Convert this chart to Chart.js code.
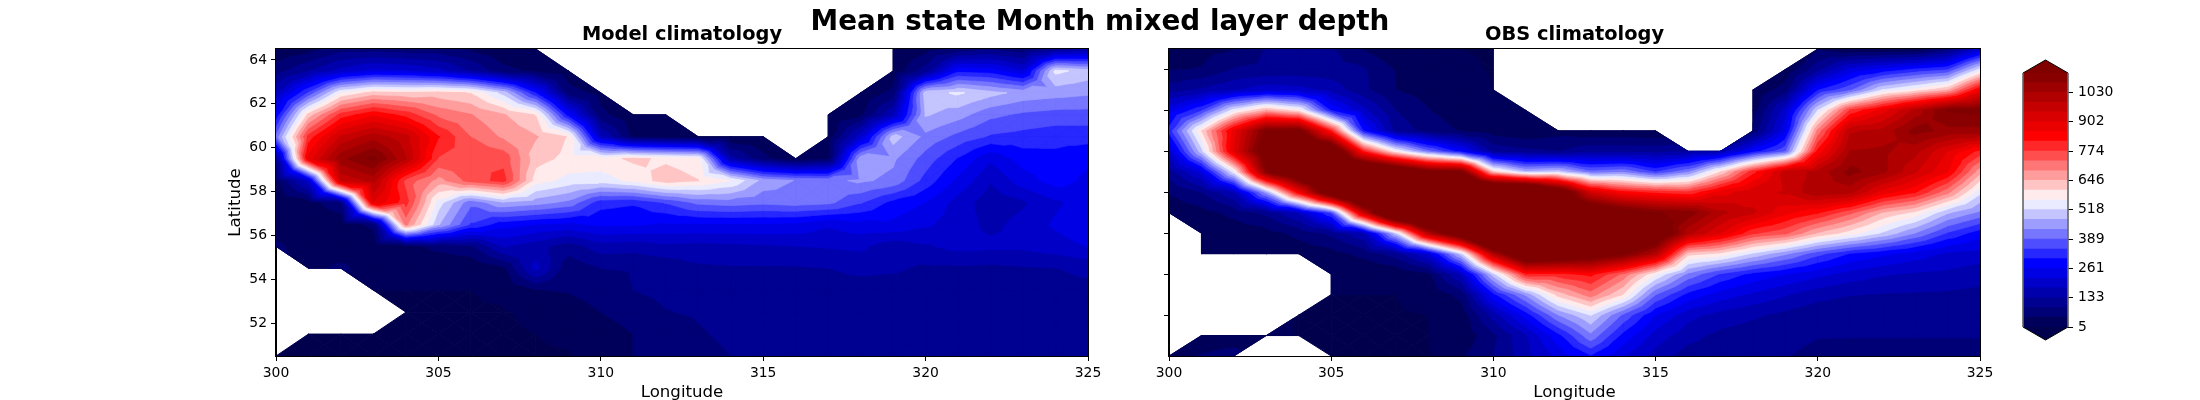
<!DOCTYPE html>
<html><head><meta charset="utf-8">
<style>
html,body{margin:0;padding:0;background:#fff;width:2200px;height:400px;overflow:hidden}
canvas{position:absolute;top:0}
#sup{position:absolute;left:0;width:2200px;top:4px;text-align:center;font:bold 27.8px "DejaVu Sans";color:#000;line-height:34px}
</style>
<script src="https://cdn.jsdelivr.net/npm/chart.js@4"></script>
</head><body>
<canvas id="a" width="910" height="400" style="left:200px"></canvas>
<canvas id="b" width="880" height="400" style="left:1120px"></canvas>
<canvas id="c" width="210" height="400" style="left:1990px"></canvas>
<div id="sup">Mean state Month mixed layer depth</div>
<script>
const n=null;
const lons=[300,301,302,303,304,305,306,307,308,309,310,311,312,313,314,315,316,317,318,319,320,321,322,323,324,325];
const modelLats=[64.5,63.5,62.5,61.5,60.5,59.5,58.5,57.5,56.5,55.5,54.5,53.5,52.5,51.5,50.5];
const modelGrid=[
[10,30,70,70,60,60,40,15,5,n,n,n,n,n,n,n,n,n,n,10,30,60,80,60,110,130],
[70,130,190,230,220,190,130,60,40,15,n,n,n,n,n,n,n,n,n,15,110,290,280,220,530,500],
[170,350,560,620,610,620,600,500,300,70,30,n,n,n,n,n,n,n,15,60,500,525,490,460,450,440],
[270,620,790,850,800,720,690,650,600,280,60,15,5,n,n,n,n,10,40,170,480,450,400,380,370,370],
[400,790,950,1010,960,820,730,680,650,600,180,40,20,10,10,15,n,20,200,495,420,375,340,330,320,320],
[100,880,1060,1130,990,770,770,760,620,590,585,612,595,580,150,60,10,40,460,440,370,300,225,280,290,270],
[40,200,950,1000,760,670,750,790,580,545,540,570,625,604,560,460,430,420,440,420,330,250,180,240,280,250],
[10,30,80,900,790,540,400,470,450,420,320,310,350,400,410,400,410,400,350,290,260,200,150,170,210,240],
[10,10,15,60,700,480,340,280,260,250,270,265,255,255,255,255,250,225,245,250,225,195,165,190,225,250],
[60,15,10,5,30,60,80,180,150,110,155,150,165,160,165,170,175,180,185,150,170,190,185,185,200,220],
[n,30,60,20,15,10,10,40,190,60,90,92,100,125,128,128,128,133,145,140,125,125,122,128,132,145],
[n,n,n,5,5,5,5,10,45,52,70,90,100,105,110,110,110,110,110,110,110,112,112,115,115,118],
[n,n,n,n,3,3,3,3,10,20,48,68,88,95,105,105,105,105,105,105,105,105,105,105,105,105],
[n,3,3,3,3,3,3,3,5,10,25,48,65,85,100,105,105,105,105,105,105,105,105,105,105,105],
[3,3,3,3,3,3,3,3,3,3,15,48,60,72,90,100,105,105,105,105,105,105,105,105,105,105]
];
const obsLats=[65,64,63,62,61,60,59,58,57,56,55,54,53,52,51,50];
const obsGrid=[
[30,35,45,92,95,95,45,10,5,5,3,n,n,n,n,n,n,n,n,n,40,10,5,5,70,200],
[45,50,92,100,105,105,95,45,15,10,3,n,n,n,n,n,n,n,n,10,120,230,270,310,340,530],
[110,140,170,200,190,160,100,48,30,15,5,n,n,n,n,n,n,n,10,70,300,380,520,575,640,860],
[240,340,540,650,580,300,190,90,50,25,10,5,n,n,n,n,n,n,25,200,520,780,880,1000,1120,1130],
[320,600,880,1130,1140,800,300,120,70,45,25,10,30,15,15,5,n,n,60,250,700,980,1000,1090,1060,1060],
[200,500,900,1200,1300,1300,800,560,400,280,120,100,90,120,120,120,130,150,280,380,830,1030,1040,1000,900,800],
[110,230,540,1100,1300,1400,1400,1300,1150,1130,610,480,500,400,420,340,420,600,800,960,1000,1090,1040,950,860,660],
[50,90,170,450,850,1250,1500,1500,1500,1500,1500,1500,1250,930,830,800,780,880,930,950,1020,1000,880,820,700,530],
[20,30,60,100,180,350,950,1450,1500,1500,1500,1500,1300,1250,1180,1120,1100,1000,950,870,820,740,640,590,480,420],
[n,10,20,30,60,100,170,500,1000,1250,1600,1500,1500,1400,1350,1250,1000,900,780,740,640,580,510,430,340,280],
[n,5,5,5,20,30,60,110,220,500,1000,1300,1250,1200,1130,1000,620,590,510,440,360,300,270,240,210,200],
[n,n,n,n,n,5,5,10,40,180,500,800,800,830,720,560,420,340,290,260,230,200,180,170,165,150],
[n,n,n,n,n,5,5,5,15,60,290,440,620,710,600,390,290,240,210,180,150,135,130,128,125,120],
[n,n,n,n,3,3,3,3,5,20,150,280,430,520,380,260,190,160,140,120,100,90,90,90,90,90],
[n,30,30,15,3,3,3,3,5,15,80,170,290,420,290,200,150,120,110,100,92,92,92,92,92,92],
[40,50,60,n,n,3,3,3,3,40,90,160,230,300,220,160,110,100,95,92,80,75,75,75,75,75]
];
const levels=[5,48,90,133,176,218,261,304,346,389,432,475,518,560,603,646,688,731,774,817,859,902,945,987,1030,1073,1115];
const cbarTicks=[5,133,261,389,518,646,774,902,1030];
const lonTicks=[300,305,310,315,320,325];
const modelLatTicks=[52,54,56,58,60,62,64];
const obsLatTicks=[52,54,56,58,60,62,64];

Chart.defaults.font.family='"DejaVu Sans"';
Chart.defaults.color='#000';
Chart.defaults.devicePixelRatio=1;

function seismic(t){
  const s=[[0,0,0,.3],[.25,0,0,1],[.5,1,1,1],[.75,1,0,0],[1,.5,0,0]];
  t=Math.max(0,Math.min(1,t));
  for(let i=0;i<4;i++){ if(t<=s[i+1][0]){
    const f=(t-s[i][0])/(s[i+1][0]-s[i][0]);
    const c=[1,2,3].map(k=>Math.round(255*(s[i][k]+f*(s[i+1][k]-s[i][k]))));
    return `rgb(${c[0]},${c[1]},${c[2]})`;
  }}
}
const nLayers=levels.length-1;
const layerColors=levels.slice(0,-1).map((_,i)=>seismic((i+.5)/nLayers));
const underColor=seismic(0), overColor=seismic(1);

function clipAbove(poly,L){
  const out=[];
  for(let i=0;i<poly.length;i++){
    const p=poly[i],q=poly[(i+1)%poly.length];
    if(p.v>=L) out.push(p);
    if((p.v>=L)!==(q.v>=L)){
      const f=(L-p.v)/(q.v-p.v);
      out.push({x:p.x+f*(q.x-p.x),y:p.y+f*(q.y-p.y),v:L});
    }
  }
  return out;
}
const contourPlugin={
  id:'contourFill',
  beforeDatasetsDraw(chart){
    const ds=chart.data.datasets[0], g=ds.grid, la=ds.lats, xs=chart.scales.x, ys=chart.scales.y, ctx=chart.ctx;
    const tris=[];
    const P=(r,c)=>({x:xs.getPixelForValue(lons[c]),y:ys.getPixelForValue(la[r]),v:g[r][c]});
    for(let r=0;r<la.length-1;r++)for(let c=0;c<lons.length-1;c++){
      const q=[[r,c],[r,c+1],[r+1,c+1],[r+1,c]].filter(k=>g[k[0]][k[1]]!==null).map(k=>P(k[0],k[1]));
      if(q.length===3) tris.push(q);
      else if(q.length===4){
        const m={x:(q[0].x+q[2].x)/2,y:(q[0].y+q[2].y)/2,v:(q[0].v+q[1].v+q[2].v+q[3].v)/4};
        for(let i=0;i<4;i++) tris.push([q[i],q[(i+1)%4],m]);
      }
    }
    ctx.save();
    ctx.beginPath();ctx.rect(chart.chartArea.left,chart.chartArea.top,chart.chartArea.width,chart.chartArea.height);ctx.clip();
    ctx.lineJoin='round';
    const paint=(L,col,w)=>{
      ctx.fillStyle=col;ctx.strokeStyle=col;ctx.lineWidth=w;
      for(const t of tris){
        const p=L===null?t:clipAbove(t,L);
        if(p.length<3)continue;
        ctx.beginPath();p.forEach((k,i)=>i?ctx.lineTo(k.x,k.y):ctx.moveTo(k.x,k.y));ctx.closePath();ctx.fill();ctx.stroke();
      }
    };
    paint(null,underColor,1);
    levels.forEach((L,i)=>paint(L,i<nLayers?layerColors[i]:overColor,.7));
    ctx.restore();
  },
  afterDraw(chart){
    const a=chart.chartArea,ctx=chart.ctx;
    ctx.save();ctx.strokeStyle='#000';ctx.lineWidth=1;
    ctx.strokeRect(a.left-.5,a.top-.5,a.width+1,a.height+1);ctx.restore();
  }
};
function points(grid,lats){
  const o=[];
  grid.forEach((row,r)=>row.forEach((v,c)=>{if(v!==null)o.push({x:lons[c],y:lats[r],v});}));
  return o;
}
function panel(id,title,grid,lats,latTicks,opt){
  return new Chart(document.getElementById(id),{
    type:'scatter',
    data:{datasets:[{label:title,data:points(grid,lats),grid,lats,pointRadius:0,showLine:false}]},
    plugins:[contourPlugin],
    options:{
      responsive:false,animation:false,
      layout:{padding:{left:0,right:opt.right,top:0,bottom:0}},
      plugins:{
        legend:{display:false},tooltip:{enabled:false},
        title:{display:true,text:title,fullSize:false,color:'#000',font:{size:19.4,weight:'bold',lineHeight:1},padding:{top:25,bottom:4.6}}
      },
      scales:{
        x:{type:'linear',min:300,max:325,
          afterBuildTicks(s){s.ticks=lonTicks.map(value=>({value}));},
          afterFit(s){s.height=44;},
          grid:{drawOnChartArea:false,drawTicks:true,tickLength:5,color:'#000'},
          border:{color:'#000'},
          ticks:{font:{size:13.9},maxRotation:0,padding:4,autoSkip:false},
          title:{display:true,text:'Longitude',font:{size:16.6},padding:{top:0,bottom:-3}}},
        y:{type:'linear',min:lats[lats.length-1],max:lats[0],
          afterBuildTicks(s){s.ticks=latTicks.map(value=>({value}));},
          afterFit(s){s.width=opt.yw;},
          grid:{drawOnChartArea:false,drawTicks:true,tickLength:5,color:'#000'},
          border:{color:'#000'},
          ticks:{display:opt.labels,font:{size:13.9},padding:4,autoSkip:false},
          title:{display:opt.labels,text:'Latitude',font:{size:16.6},padding:{top:26,bottom:0}}}
      }
    }
  });
}
panel('a','Model climatology',modelGrid,modelLats,modelLatTicks,{right:22,yw:76,labels:true});
panel('b','OBS climatology',obsGrid,obsLats,obsLatTicks,{right:20,yw:49,labels:false});

const tipPlugin={
  id:'cbarTips',
  afterDatasetsDraw(chart){
    const a=chart.chartArea,ctx=chart.ctx,mx=(a.left+a.right)/2,h=13;
    ctx.save();
    ctx.fillStyle=overColor;ctx.beginPath();ctx.moveTo(a.left,a.top);ctx.lineTo(mx,a.top-h);ctx.lineTo(a.right,a.top);ctx.closePath();ctx.fill();
    ctx.fillStyle=underColor;ctx.beginPath();ctx.moveTo(a.left,a.bottom);ctx.lineTo(mx,a.bottom+h);ctx.lineTo(a.right,a.bottom);ctx.closePath();ctx.fill();
    ctx.strokeStyle='#000';ctx.lineWidth=1;
    ctx.beginPath();ctx.moveTo(a.left,a.top);ctx.lineTo(mx,a.top-h);ctx.lineTo(a.right,a.top);ctx.stroke();
    ctx.beginPath();ctx.moveTo(a.left,a.bottom);ctx.lineTo(mx,a.bottom+h);ctx.lineTo(a.right,a.bottom);ctx.stroke();
    ctx.strokeStyle='#666';ctx.lineWidth=1.6;
    ctx.beginPath();ctx.moveTo(a.left,a.top);ctx.lineTo(a.left,a.bottom);ctx.moveTo(a.right,a.top);ctx.lineTo(a.right,a.bottom);ctx.stroke();
    ctx.restore();
  }
};
new Chart(document.getElementById('c'),{
  type:'bar',
  data:{labels:['MLD'],datasets:layerColors.map((col,i)=>({label:String(levels[i]),data:[[levels[i],levels[i+1]]],backgroundColor:col,borderWidth:0,grouped:false,barPercentage:1,categoryPercentage:1}))},
  plugins:[tipPlugin],
  options:{
    responsive:false,animation:false,
    layout:{padding:{left:33,right:0,top:73,bottom:73}},
    plugins:{legend:{display:false},tooltip:{enabled:false},title:{display:false}},
    scales:{
      x:{display:false},
      y:{position:'right',min:5,max:1115,
        afterBuildTicks(s){s.ticks=cbarTicks.map(value=>({value}));},
        afterFit(s){s.width=132;},
        grid:{drawOnChartArea:false,drawTicks:true,tickLength:5,color:'#000'},
        border:{display:false},
        ticks:{font:{size:13.9},padding:5,autoSkip:false,callback:v=>String(v)}}
    }
  }
});
</script>
</body></html>
